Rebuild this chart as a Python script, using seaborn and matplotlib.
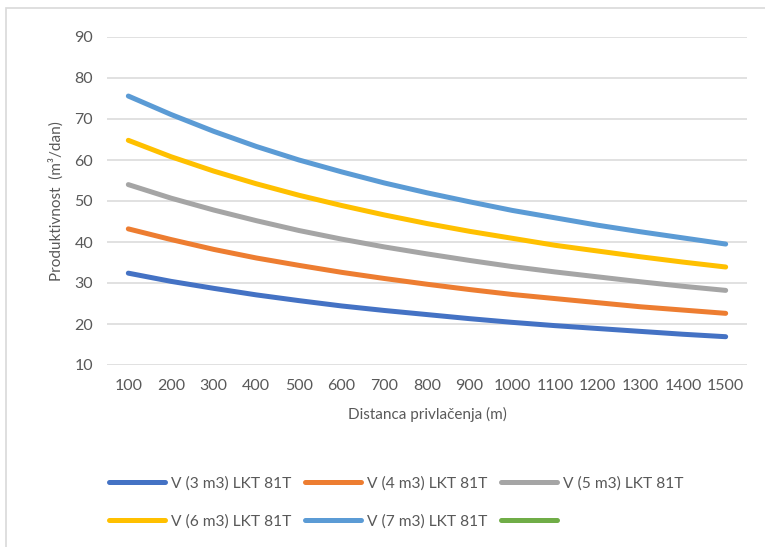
import matplotlib
matplotlib.use("Agg")
import matplotlib.pyplot as plt
from matplotlib.lines import Line2D
from matplotlib.patches import Rectangle
import seaborn as sns
import pandas as pd

# ---- data ----
distances = [100, 200, 300, 400, 500, 600, 700, 800, 900, 1000, 1100, 1200, 1300, 1400, 1500]
v3 = [32.4, 30.4, 28.7, 27.1, 25.7, 24.4, 23.3, 22.3, 21.3, 20.4, 19.6, 18.9, 18.2, 17.5, 16.9]
v4 = [43.2, 40.6, 38.2, 36.1, 34.3, 32.6, 31.1, 29.7, 28.4, 27.2, 26.2, 25.2, 24.2, 23.4, 22.6]
v5 = [54.0, 50.7, 47.8, 45.2, 42.8, 40.7, 38.8, 37.1, 35.5, 34.0, 32.7, 31.5, 30.3, 29.2, 28.2]
v6 = [64.8, 60.8, 57.3, 54.2, 51.4, 48.9, 46.6, 44.5, 42.6, 40.9, 39.2, 37.8, 36.4, 35.1, 33.9]
v7 = [75.6, 71.1, 67.0, 63.3, 60.0, 57.1, 54.4, 52.0, 49.8, 47.7, 45.9, 44.1, 42.5, 41.0, 39.5]
series_names = ["V (3 m3) LKT 81T", "V (4 m3) LKT 81T", "V (5 m3) LKT 81T",
                "V (6 m3) LKT 81T", "V (7 m3) LKT 81T"]
empty_series_label = ""
colors = ["#4472C4", "#ED7D31", "#A5A5A5", "#FFC000", "#5B9BD5"]
empty_series_color = "#70AD47"
y_ticks = [10, 20, 30, 40, 50, 60, 70, 80, 90]

rows = []
for name, vals in zip(series_names, [v3, v4, v5, v6, v7]):
    for d, v in zip(distances, vals):
        rows.append({"Distanca": d, "Produktivnost": v, "Serija": name})
df = pd.DataFrame(rows)

sns.set_theme(style="white")
plt.rcParams["font.family"] = ["Lato", "DejaVu Sans"]

W, H = 765, 547
fig = plt.figure(figsize=(W / 100, H / 100), dpi=100)
fig.patch.set_facecolor("white")

# outer chart border (cropped on right/bottom)
fig.patches.append(Rectangle((6 / W, -0.1), 2.0, 1 - 8 / H + 0.1, transform=fig.transFigure,
                             fill=False, edgecolor="#D9D9D9", linewidth=1.2, zorder=0))

ax = fig.add_axes([107 / W, 1 - 365 / H, (747 - 107) / W, (365 - 37) / H])

sns.lineplot(data=df, x="Distanca", y="Produktivnost", hue="Serija",
             hue_order=series_names, palette=colors, linewidth=3.6,
             legend=False, ax=ax)
for ln in ax.get_lines():
    ln.set_solid_capstyle("round")

ax.set_xlim(distances[0] - 50, distances[-1] + 50)
ax.set_ylim(y_ticks[0], y_ticks[-1])
ax.set_xticks(distances)
ax.set_xticklabels([str(d) for d in distances])
ax.set_yticks(y_ticks)
ax.grid(axis="y", color="#D9D9D9", linewidth=1.1)
ax.set_axisbelow(True)
for s in ax.spines.values():
    s.set_visible(False)
ax.tick_params(axis="both", length=0, labelsize=11.5, colors="#595959")
ax.tick_params(axis="x", pad=10)
ax.tick_params(axis="y", pad=10)

ax.set_xlabel("Distanca privlačenja (m)", fontsize=11, color="#595959", labelpad=10)
ax.set_ylabel("Produktivnost  (m³/dan)", fontsize=11, color="#595959", labelpad=8)

handles = [Line2D([0], [0], color=c, linewidth=3.6, solid_capstyle="round") for c in colors]
handles.append(Line2D([0], [0], color=empty_series_color, linewidth=3.6, solid_capstyle="round"))
labels = series_names + [empty_series_label]
# matplotlib fills legend columns first; reorder so entries read row by row
order = [0, 3, 1, 4, 2, 5]
handles = [handles[i] for i in order]
labels = [labels[i] for i in order]
leg = fig.legend(handles, labels, loc="upper left", bbox_to_anchor=(109 / W, 1 - 476 / H),
                 ncol=3, frameon=False, fontsize=11.2, handlelength=3.6, handletextpad=0.4,
                 columnspacing=0.85, labelspacing=1.55, borderpad=0, borderaxespad=0)
for t in leg.get_texts():
    t.set_color("#595959")

fig.savefig("out.png", dpi=100, facecolor="white")
